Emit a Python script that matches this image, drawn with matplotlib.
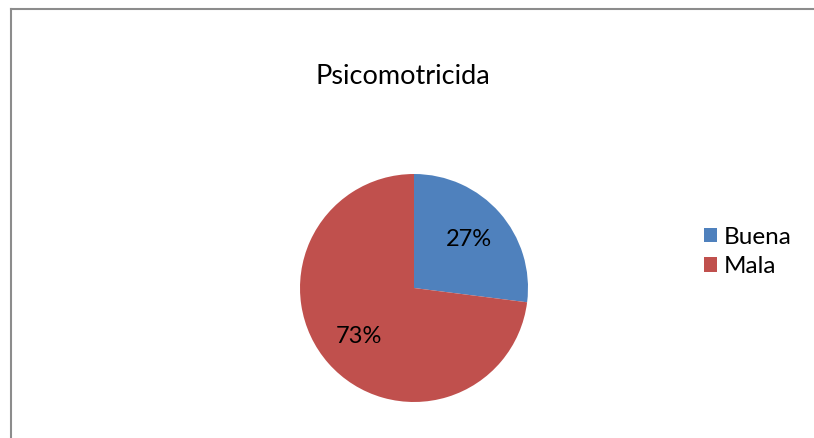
import matplotlib.pyplot as plt
from matplotlib.lines import Line2D
from matplotlib.patches import Patch

title = "Psicomotricida"
categories = ["Buena", "Mala"]
values = [27, 73]
colors = ["#4F81BD", "#C0504D"]

plt.rcParams['font.family'] = ['Lato', 'DejaVu Sans']

fig = plt.figure(figsize=(8.14, 4.38), dpi=100)

# chart border (only top and left visible)
fig.add_artist(Line2D([11 / 814, 1.0], [1 - 9 / 438, 1 - 9 / 438],
                      color="#8c8c8c", lw=1.5, transform=fig.transFigure))
fig.add_artist(Line2D([11 / 814, 11 / 814], [0.0, 1 - 9 / 438],
                      color="#8c8c8c", lw=1.5, transform=fig.transFigure))

# pie axes: center (414, 288) px, radius 114 px
cx, cy, r = 414, 288, 114
ax = fig.add_axes([(cx - r) / 814, (438 - cy - r) / 438, 2 * r / 814, 2 * r / 438])
wedges, texts, autotexts = ax.pie(
    values, colors=colors, startangle=90, counterclock=False,
    autopct="%1.0f%%", pctdistance=0.64,
    wedgeprops=dict(linewidth=0), textprops=dict(fontsize=17, color="black"))
ax.set_xlim(-1, 1)
ax.set_ylim(-1, 1)

fig.text(403 / 814, 1 - 77 / 438, title, ha="center", va="center", fontsize=19.5)

handles = [Patch(facecolor=c, edgecolor="none") for c in colors]
fig.legend(handles, categories, loc="center left",
           bbox_to_anchor=(682 / 814, 1 - 252 / 438), frameon=False,
           fontsize=17.5, handlelength=0.55, handleheight=0.55,
           handletextpad=0.25, labelspacing=0.35)

fig.savefig("out.png", dpi=100)
